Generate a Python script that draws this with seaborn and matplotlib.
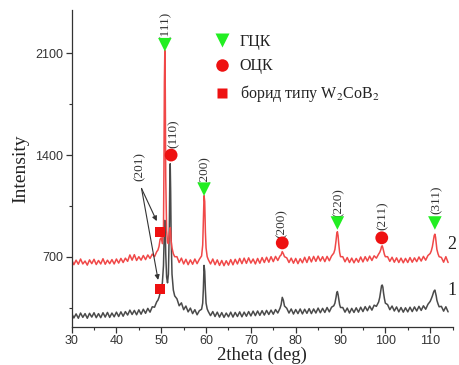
import numpy as np
import pandas as pd
import matplotlib
matplotlib.use("Agg")
import matplotlib.pyplot as plt
from matplotlib.lines import Line2D
from matplotlib.ticker import MultipleLocator
import seaborn as sns

# ---------------- data ----------------
two_theta = [
    30.0, 30.5, 31.0, 31.5, 32.0, 32.5, 33.0, 33.5, 34.0, 34.5, 35.0, 35.5, 36.0, 36.5,
    37.0, 37.5, 38.0, 38.5, 39.0, 39.5, 40.0, 40.5, 41.0, 41.5, 42.0, 42.5, 43.0, 43.5,
    44.0, 44.5, 45.0, 45.5, 46.0, 46.5, 47.0, 47.5, 48.0, 48.5, 49.0,
    49.25, 49.5, 49.75, 50.0, 50.25, 50.5, 50.6, 50.7, 50.8, 50.9, 51.0, 51.2, 51.4,
    51.6, 51.8, 51.9, 52.0, 52.1, 52.2, 52.4, 52.7, 53.0,
    53.5, 54.0, 54.5, 55.0, 55.5, 56.0, 56.5, 57.0, 57.5, 58.0, 58.5, 59.0,
    59.25, 59.4, 59.55, 59.7, 59.85, 60.0, 60.25,
    60.5, 61.0, 61.5, 62.0, 62.5, 63.0, 63.5, 64.0, 64.5, 65.0, 65.5, 66.0, 66.5, 67.0,
    67.5, 68.0, 68.5, 69.0, 69.5, 70.0, 70.5, 71.0, 71.5, 72.0, 72.5, 73.0, 73.5, 74.0,
    74.5, 75.0, 75.5, 76.0, 76.5,
    76.75, 77.0, 77.25, 77.5,
    78.0, 78.5, 79.0, 79.5, 80.0, 80.5, 81.0, 81.5, 82.0, 82.5, 83.0, 83.5, 84.0, 84.5,
    85.0, 85.5, 86.0, 86.5, 87.0, 87.5, 88.0, 88.5,
    88.75, 89.0, 89.15, 89.3, 89.45, 89.6, 89.8, 90.0,
    90.5, 91.0, 91.5, 92.0, 92.5, 93.0, 93.5, 94.0, 94.5, 95.0, 95.5, 96.0, 96.5, 97.0,
    97.5, 98.0, 98.5,
    98.75, 99.0, 99.15, 99.3, 99.45, 99.6, 99.8, 100.0,
    100.5, 101.0, 101.5, 102.0, 102.5, 103.0, 103.5, 104.0, 104.5, 105.0, 105.5, 106.0,
    106.5, 107.0, 107.5, 108.0, 108.5, 109.0, 109.5, 110.0,
    110.25, 110.5, 110.75, 110.9, 111.05, 111.2, 111.35, 111.5, 111.75, 112.0,
    112.5, 113.0, 113.5, 114.0,
]

intensity_2 = [  # curve 2 (red)
    680, 645, 676, 648, 684, 650, 670, 642, 678, 652, 682, 646, 674, 650,
    686, 648, 676, 652, 680, 650, 684, 656, 688, 660, 690, 668, 712, 676,
    714, 674, 700, 676, 708, 680, 712, 688, 718, 700, 735,
    745, 770, 820, 830, 790, 900, 1300, 1900, 2120, 1850, 1250, 880, 800,
    790, 860, 890, 900, 870, 810, 760, 720, 700,
    700, 660, 690, 650, 682, 645, 678, 648, 684, 652, 682, 705,
    780, 950, 1120, 1080, 870, 760, 700,
    680, 650, 684, 645, 678, 640, 674, 638, 672, 642, 680, 644, 682, 650,
    688, 652, 690, 654, 692, 656, 684, 650, 688, 655, 694, 660, 696, 662,
    700, 666, 702, 674, 705,
    712, 735, 720, 700,
    692, 660, 690, 655, 688, 652, 686, 658, 696, 660, 700, 664, 702, 668,
    704, 670, 700, 666, 702, 672, 705, 725,
    750, 810, 855, 872, 845, 790, 730, 700,
    700, 665, 694, 660, 690, 658, 688, 662, 698, 664, 700, 670, 704, 674,
    706, 690, 718,
    730, 750, 770, 775, 760, 740, 715, 700,
    700, 668, 696, 662, 692, 660, 690, 658, 688, 660, 694, 662,
    692, 666, 698, 670, 702, 676, 708, 722,
    740, 770, 815, 845, 855, 835, 790, 750, 720, 700,
    695, 662, 700, 660,
]

intensity_1 = [  # curve 1 (dark grey)
    310, 278, 306, 276, 312, 282, 308, 276, 310, 284, 314, 280, 308, 280,
    314, 284, 316, 282, 312, 286, 318, 288, 320, 290, 322, 298, 332, 302,
    330, 300, 334, 304, 338, 310, 344, 318, 355, 352, 390,
    400, 420, 450, 470, 520, 640, 780, 900, 950, 880, 720, 560, 520,
    580, 900, 1200, 1340, 1150, 850, 580, 470, 430,
    410, 362, 382, 335, 360, 320, 346, 308, 335, 300, 328, 338,
    380, 480, 640, 600, 470, 380, 340,
    322, 294, 322, 288, 318, 284, 315, 282, 312, 286, 318, 284, 316, 288,
    320, 286, 318, 290, 322, 292, 325, 294, 326, 296, 328, 298, 330, 302,
    332, 304, 336, 312, 345,
    370, 420, 400, 360,
    345, 312, 340, 305, 336, 308, 340, 306, 338, 310, 342, 308, 340, 312,
    346, 314, 344, 316, 350, 320, 352, 362,
    380, 420, 450, 460, 440, 410, 370, 350,
    350, 318, 346, 312, 344, 316, 348, 318, 352, 322, 356, 328, 360, 332,
    366, 358, 388,
    420, 470, 500, 505, 490, 450, 410, 380,
    370, 335, 360, 326, 354, 320, 350, 318, 348, 320, 352, 322,
    354, 326, 358, 330, 362, 338, 372, 392,
    410, 430, 455, 465, 470, 450, 430, 400, 375, 355,
    358, 325, 355, 320,
]

fcc_x = [50.8, 59.55, 89.3, 111.05]
fcc_y = [2160, 1165, 932, 932]
bcc_x = [52.2, 77.0, 99.2]
bcc_y = [1400, 795, 830]
boride_x = [49.8, 49.8]
boride_y = [868, 478]

peak_labels = ["(111)", "(110)", "(200)", "(200)", "(220)", "(211)", "(311)"]
peak_label_x = [51.0, 52.7, 59.75, 76.9, 89.5, 99.4, 111.5]
peak_label_y = [2290, 1550, 1295, 930, 1070, 985, 1095]

legend_labels = ["ГЦК", "ОЦК", "борид типу W$_2$CoB$_2$"]
curve_labels = ["1", "2"]
curve_label_y = [470, 787]

# ---------------- plotting ----------------
sns.set_theme(style="ticks")
plt.rcParams["font.family"] = ["Liberation Sans", "DejaVu Sans"]
plt.rcParams["mathtext.fontset"] = "stix"

RED = "#f04848"
GREY = "#4a4a4a"
SERIF = ["Liberation Serif", "DejaVu Serif"]

fig = plt.figure(figsize=(4.59, 3.65), dpi=100)
ax = fig.add_axes([0.156, 0.105, 0.830, 0.868])

df = pd.DataFrame({"two_theta": two_theta, "c1": intensity_1, "c2": intensity_2})
sns.lineplot(data=df, x="two_theta", y="c1", ax=ax, color=GREY, lw=1.1, estimator=None)
sns.lineplot(data=df, x="two_theta", y="c2", ax=ax, color=RED, lw=1.1, estimator=None)

sns.scatterplot(x=fcc_x, y=fcc_y, ax=ax, marker="v", s=95, color="#22ee22", edgecolor="none", zorder=5)
sns.scatterplot(x=bcc_x, y=bcc_y, ax=ax, marker="o", s=85, color="#ee1111", edgecolor="none", zorder=5)
sns.scatterplot(x=boride_x, y=boride_y, ax=ax, marker="s", s=55, color="#ee1111", edgecolor="none", zorder=5)

for lab, px, py in zip(peak_labels, peak_label_x, peak_label_y):
    ax.text(px, py, lab, rotation=90, ha="center", va="center", fontsize=9.5,
            family=SERIF, color="#333333")

# (201) label with arrows to boride squares
ax.text(45.2, 1324, "(201)", rotation=90, ha="center", va="center", fontsize=9.5,
        family=SERIF, color="#333333")
for tx, ty in [(49.0, 945), (49.3, 540)]:
    ax.annotate("", xy=(tx, ty), xytext=(45.6, 1170),
                arrowprops=dict(arrowstyle="-|>", color="#333333", lw=0.8,
                                mutation_scale=7, shrinkA=0, shrinkB=0))

for lab, ly in zip(curve_labels, curve_label_y):
    ax.text(114.9, ly, lab, ha="center", va="center", fontsize=13, family=SERIF,
            color="#222222", clip_on=False)

handles = [
    Line2D([], [], ls="none", marker="v", color="#22ee22", markersize=9.5, mec="none"),
    Line2D([], [], ls="none", marker="o", color="#ee1111", markersize=9, mec="none"),
    Line2D([], [], ls="none", marker="s", color="#ee1111", markersize=7, mec="none"),
]
leg = ax.legend(handles, legend_labels, loc="upper left", bbox_to_anchor=(0.374, 0.925),
                frameon=False, borderpad=0, borderaxespad=0, handlelength=1.0,
                handletextpad=0.6, labelspacing=0.55, prop={"family": SERIF, "size": 11.5})
for t in leg.get_texts():
    t.set_color("#222222")

ax.set_xlim(30, 115)
ax.set_ylim(218, 2400)
ax.xaxis.set_major_locator(MultipleLocator(10))
ax.xaxis.set_minor_locator(MultipleLocator(5))
ax.yaxis.set_major_locator(MultipleLocator(700))
ax.yaxis.set_minor_locator(MultipleLocator(350))
ax.set_xticks([30, 40, 50, 60, 70, 80, 90, 100, 110])
ax.tick_params(axis="both", which="major", direction="out", length=4, width=0.9,
               labelsize=9, colors="#333333", pad=2)
ax.tick_params(axis="both", which="minor", direction="out", length=2.5, width=0.8,
               colors="#333333")
ax.set_xlabel("2theta (deg)", family=SERIF, fontsize=13.5, color="#222222", labelpad=0)
ax.set_ylabel("Intensity", family=SERIF, fontsize=14, color="#222222", labelpad=4)
sns.despine(ax=ax)
for s in ["left", "bottom"]:
    ax.spines[s].set_color("#333333")
    ax.spines[s].set_linewidth(0.9)

fig.savefig("out.png", dpi=100)
